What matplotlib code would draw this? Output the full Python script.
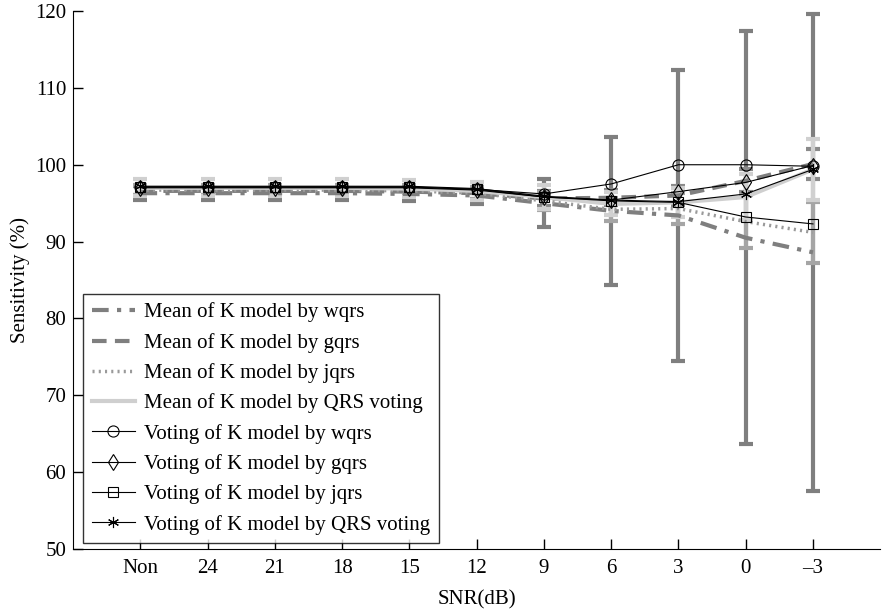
import matplotlib.pyplot as plt

plt.rcParams['font.family'] = ['Liberation Serif', 'DejaVu Serif']

# SNR levels (x axis)
snr_labels = ['Non', '24', '21', '18', '15', '12', '9', '6', '3', '0', '–3']

# Mean of K model (with std error bars)
mean_wqrs = [96.3, 96.3, 96.3, 96.3, 96.2, 96.0, 95.0, 94.0, 93.4, 90.5, 88.6]
sd_wqrs = [0.9, 0.9, 0.9, 0.9, 0.9, 1.1, 3.1, 9.6, 18.9, 26.9, 31.0]
mean_gqrs = [96.6, 96.6, 96.6, 96.6, 96.5, 96.3, 95.6, 95.7, 96.0, 97.9, 100.1]
sd_gqrs = [0.6, 0.6, 0.6, 0.6, 0.6, 0.7, 1.0, 1.0, 1.2, 1.5, 2.0]
mean_jqrs = [96.7, 96.7, 96.7, 96.7, 96.6, 96.3, 95.3, 94.2, 94.3, 92.6, 91.2]
sd_jqrs = [0.7, 0.7, 0.7, 0.7, 0.7, 0.8, 1.2, 1.5, 2.0, 3.4, 4.0]
mean_qrs = [97.0, 97.0, 97.0, 97.0, 96.9, 96.6, 95.8, 94.9, 95.1, 95.8, 99.4]
sd_qrs = [1.1, 1.1, 1.1, 1.1, 1.1, 1.2, 1.6, 1.5, 1.9, 3.0, 4.0]

# Voting of K model
vote_wqrs = [97.1, 97.1, 97.1, 97.1, 97.1, 96.8, 96.2, 97.5, 100.0, 100.0, 99.8]
vote_gqrs = [97.0, 97.0, 97.0, 97.0, 97.0, 96.7, 95.8, 95.4, 96.5, 97.7, 99.9]
vote_jqrs = [97.1, 97.1, 97.1, 97.1, 97.1, 96.8, 95.8, 95.3, 95.1, 93.2, 92.3]
vote_qrs = [97.2, 97.2, 97.2, 97.2, 97.2, 96.9, 95.9, 95.4, 95.2, 96.2, 99.4]

x = list(range(len(snr_labels)))

fig = plt.figure(figsize=(8.82, 6.13), dpi=100)
ax = fig.add_axes([0.083, 0.1044, 0.915, 0.8776])

# error bars first (drawn under the lines)
eb = dict(fmt='none', elinewidth=3, capsize=5, capthick=3)
ax.errorbar(x, mean_wqrs, yerr=sd_wqrs, ecolor='#7f7f7f', **eb)
ax.errorbar(x, mean_gqrs, yerr=sd_gqrs, ecolor='#8a8a8a', **eb)
ax.errorbar(x, mean_jqrs, yerr=sd_jqrs, ecolor='#a5a5a5', **eb)
ax.errorbar(x, mean_qrs, yerr=sd_qrs, ecolor='#d0d0d0', **eb)

ax.plot(x, mean_wqrs, color='#7f7f7f', lw=3, ls=(0, (4, 2, 1, 2)), label='Mean of K model by wqrs')
ax.plot(x, mean_gqrs, color='#7f7f7f', lw=3, ls=(0, (3.5, 2)), label='Mean of K model by gqrs')
ax.plot(x, mean_jqrs, color='#9a9a9a', lw=2.5, ls=(0, (0.6, 1.2)), label='Mean of K model by jqrs')
ax.plot(x, mean_qrs, color='#cfcfcf', lw=3, ls='-', label='Mean of K model by QRS voting')

mk = dict(color='black', lw=0.8, mfc='none', mec='black', mew=0.8)
ax.plot(x, vote_wqrs, marker='o', ms=8, label='Voting of K model by wqrs', **mk)
ax.plot(x, vote_gqrs, marker='d', ms=8, label='Voting of K model by gqrs', **mk)
ax.plot(x, vote_jqrs, marker='s', ms=6.5, label='Voting of K model by jqrs', **mk)
ax.plot(x, vote_qrs, marker=(6, 2, 0), ms=8, label='Voting of K model by QRS voting', **mk)

ax.set_xlim(-1, 11)
ax.set_ylim(50, 120)
ax.set_xticks(x)
ax.set_xticklabels(snr_labels)
ax.set_yticks(range(50, 121, 10))
ax.tick_params(direction='in', length=7, pad=5, labelsize=15, width=1)
ax.tick_params(axis='x', pad=7)
ax.spines['top'].set_visible(False)
ax.spines['right'].set_visible(False)
ax.set_xlabel('SNR(dB)', fontsize=15, labelpad=9)
ax.set_ylabel('Sensitivity (%)', fontsize=15, labelpad=4)

leg = ax.legend(loc='lower left', bbox_to_anchor=(0.0124, 0.011), borderaxespad=0,
                fontsize=15, frameon=True, fancybox=False, edgecolor='black',
                handlelength=2.1, labelspacing=0.5, borderpad=0.4, handletextpad=0.43)
leg.get_frame().set_linewidth(1)

fig.savefig('out.png', dpi=100)
